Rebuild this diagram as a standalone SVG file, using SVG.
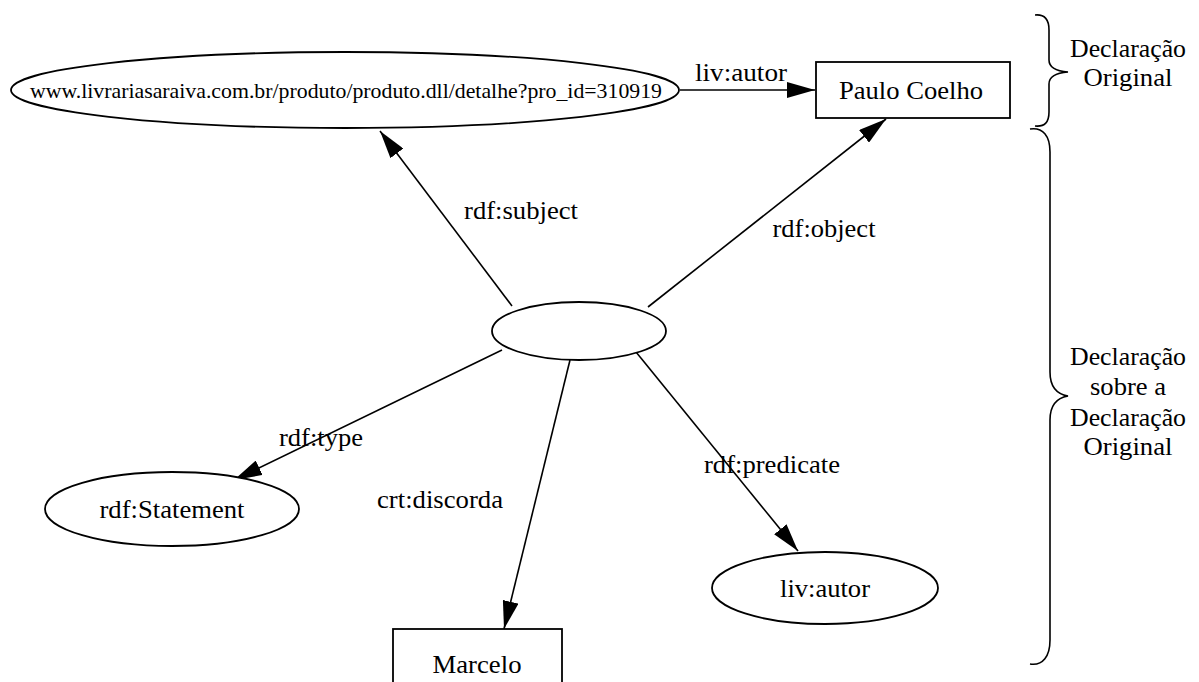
<svg xmlns="http://www.w3.org/2000/svg" width="1199" height="682" viewBox="0 0 1199 682">
  <style>
    .shape { fill: #fff; stroke: #000; stroke-width: 1.8; }
    .edge { fill: none; stroke: #000; stroke-width: 1.6; }
    .brace { fill: none; stroke: #000; stroke-width: 1.6; }
    text { font-family: "Liberation Serif", "Times New Roman", serif; font-size: 26px; fill: #000; text-anchor: middle; }
    .url { font-size: 22px; }
  </style>
  <defs>
    <marker id="arrow" viewBox="0 0 28 16" refX="28" refY="8" markerWidth="28" markerHeight="16" markerUnits="userSpaceOnUse" orient="auto">
      <path d="M0,0 L28,8 L0,16 z" fill="#000"/>
    </marker>
  </defs>

  <rect width="1199" height="682" fill="#fff"/>

  <!-- connectors -->
  <g id="edges">
    <line class="edge" x1="680" y1="90" x2="815" y2="90" marker-end="url(#arrow)"/>
    <text x="741" y="81" textLength="92" lengthAdjust="spacingAndGlyphs">liv:autor</text>

    <line class="edge" x1="512" y1="306" x2="380" y2="131" marker-end="url(#arrow)"/>
    <text x="521" y="219" textLength="114" lengthAdjust="spacingAndGlyphs">rdf:subject</text>

    <line class="edge" x1="648" y1="307" x2="886" y2="119" marker-end="url(#arrow)"/>
    <text x="824" y="237" textLength="103" lengthAdjust="spacingAndGlyphs">rdf:object</text>

    <line class="edge" x1="502" y1="350" x2="234" y2="480" marker-end="url(#arrow)"/>
    <text x="321" y="446" textLength="84" lengthAdjust="spacingAndGlyphs">rdf:type</text>

    <line class="edge" x1="570" y1="360" x2="504" y2="629" marker-end="url(#arrow)"/>
    <text x="440" y="508" textLength="126" lengthAdjust="spacingAndGlyphs">crt:discorda</text>

    <line class="edge" x1="636" y1="352" x2="798" y2="551" marker-end="url(#arrow)"/>
    <text x="772" y="473" textLength="136" lengthAdjust="spacingAndGlyphs">rdf:predicate</text>
  </g>

  <!-- nodes -->
  <g id="node-url">
    <ellipse class="shape" cx="345" cy="90" rx="334" ry="38"/>
    <text class="url" x="346" y="98" textLength="632" lengthAdjust="spacingAndGlyphs">www.livrariasaraiva.com.br/produto/produto.dll/detalhe?pro_id=310919</text>
  </g>

  <g id="node-paulo">
    <rect class="shape" x="816" y="62" width="194" height="56"/>
    <text x="911" y="99" textLength="144" lengthAdjust="spacingAndGlyphs">Paulo Coelho</text>
  </g>

  <g id="node-statement">
    <ellipse class="shape" cx="579" cy="331" rx="87" ry="29"/>
  </g>

  <g id="node-rdfstatement">
    <ellipse class="shape" cx="172" cy="509" rx="127" ry="37"/>
    <text x="172" y="518" textLength="145" lengthAdjust="spacingAndGlyphs">rdf:Statement</text>
  </g>

  <g id="node-livautor">
    <ellipse class="shape" cx="825" cy="588" rx="113" ry="36"/>
    <text x="825" y="597" textLength="90" lengthAdjust="spacingAndGlyphs">liv:autor</text>
  </g>

  <g id="node-marcelo">
    <rect class="shape" x="393" y="629" width="169" height="70"/>
    <text x="477" y="673" textLength="89" lengthAdjust="spacingAndGlyphs">Marcelo</text>
  </g>

  <!-- side braces and their captions -->
  <g id="brace-original">
    <path class="brace" d="M1035,15 C1045,14 1049,20 1049,30 L1049,60 C1049,67 1055,71 1068,72 C1055,73 1049,77 1049,84 L1049,112 C1049,122 1045,127 1035,126"/>
    <text x="1128" y="57" textLength="116" lengthAdjust="spacingAndGlyphs">Declaração</text>
    <text x="1128" y="86" textLength="89" lengthAdjust="spacingAndGlyphs">Original</text>
  </g>

  <g id="brace-meta">
    <path class="brace" d="M1030,129 C1043,127 1050,136 1050,152 L1050,372 C1050,386 1056,394 1068,396 C1056,398 1050,406 1050,420 L1050,640 C1050,656 1043,666 1030,664"/>
    <text x="1128" y="365" textLength="116" lengthAdjust="spacingAndGlyphs">Declaração</text>
    <text x="1128" y="395" textLength="76" lengthAdjust="spacingAndGlyphs">sobre a</text>
    <text x="1128" y="426" textLength="116" lengthAdjust="spacingAndGlyphs">Declaração</text>
    <text x="1128" y="455" textLength="89" lengthAdjust="spacingAndGlyphs">Original</text>
  </g>
</svg>
